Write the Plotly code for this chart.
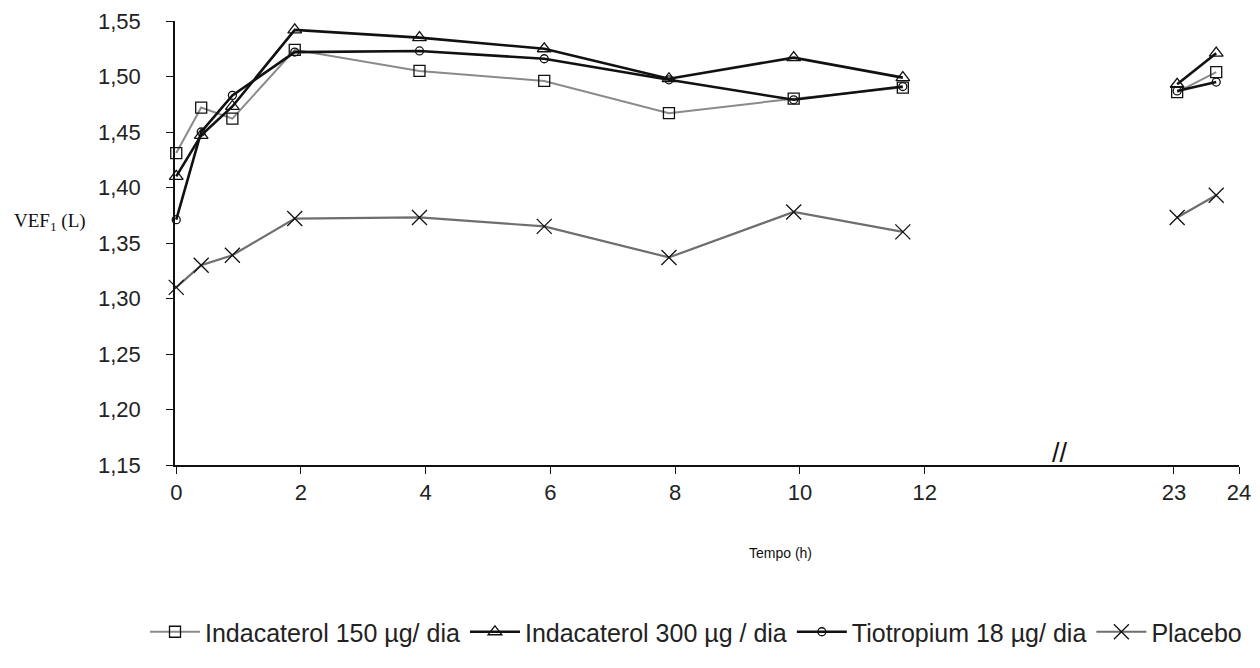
import plotly.graph_objects as go

# hours, first day (before the axis break) and next morning (after the break)
times_am = [0, 0.4, 0.9, 1.9, 3.9, 5.9, 7.9, 9.9, 11.65]
times_pm = [23.05, 23.65]

ind150_am = [1.431, 1.472, 1.462, 1.524, 1.505, 1.496, 1.467, 1.480, 1.490]
ind150_pm = [1.486, 1.504]
ind300_am = [1.410, 1.447, 1.473, 1.542, 1.535, 1.525, 1.498, 1.517, 1.499]
ind300_pm = [1.493, 1.521]
tio_am = [1.371, 1.450, 1.483, 1.522, 1.523, 1.516, 1.497, 1.479, 1.491]
tio_pm = [1.487, 1.495]
plac_am = [1.310, 1.330, 1.339, 1.372, 1.373, 1.365, 1.337, 1.378, 1.360]
plac_pm = [1.373, 1.393]

xticks_am = [0, 2, 4, 6, 8, 10, 12]
xticks_pm = [23, 24]
yticks = [1.15, 1.20, 1.25, 1.30, 1.35, 1.40, 1.45, 1.50, 1.55]

series = [
    ("Indacaterol 150 µg/ dia", ind150_am, ind150_pm, "square-open", 11, "#8a8a8a", 2),
    ("Indacaterol 300 µg / dia", ind300_am, ind300_pm, "triangle-up-open", 12, "#111111", 2.6),
    ("Tiotropium 18 µg/ dia", tio_am, tio_pm, "circle-open", 8, "#111111", 2.6),
    ("Placebo", plac_am, plac_pm, "x-thin-open", 15, "#6e6e6e", 2.2),
]

# page body has an 8px margin, so the figure is a bit smaller than the window
OFF = 8
W, H = 1260 - 2 * OFF, 668 - 2 * OFF
px = lambda x: (x - OFF) / W
py = lambda y: 1 - (y - OFF) / H

fig = go.Figure()
for name, am, pm, sym, size, lcol, lw in series:
    mk = dict(symbol=sym, size=size, color="#111111", line=dict(color="#111111", width=1.3))
    fig.add_trace(go.Scatter(x=times_am, y=am, name=name, mode="lines+markers",
                             legendgroup=name, line=dict(color=lcol, width=lw),
                             marker=mk, xaxis="x", yaxis="y", cliponaxis=False))
    fig.add_trace(go.Scatter(x=times_pm, y=pm, name=name, mode="lines+markers",
                             legendgroup=name, showlegend=False,
                             line=dict(color=lcol, width=lw),
                             marker=mk, xaxis="x2", yaxis="y", cliponaxis=False))

tickfont = dict(family="Liberation Sans", size=22, color="#222222")
axis_common = dict(showline=True, linecolor="#111111", linewidth=2, ticks="outside",
                   ticklen=7, tickcolor="#111111", tickwidth=1.2, showgrid=False,
                   zeroline=False, tickfont=tickfont, ticklabelstandoff=0,
                   automargin=False)


def label(text, x, y, family, size):
    return dict(text=text, x=px(x), y=py(y), xref="paper", yref="paper",
                xanchor="center", yanchor="middle", showarrow=False,
                font=dict(family=family, size=size, color="#111111"))


fig.update_layout(
    width=W, height=H,
    margin=dict(l=0, r=0, t=0, b=0),
    paper_bgcolor="white", plot_bgcolor="white",
    separators=",.",
    showlegend=True,
    xaxis=dict(domain=[px(175), px(1060)], range=[-0.02, 14.17], anchor="y",
               tickvals=xticks_am, **axis_common),
    xaxis2=dict(domain=[px(1060), px(1239)], range=[21.25, 24], anchor="y",
                tickvals=xticks_pm, **axis_common),
    yaxis=dict(domain=[py(465), py(21)], range=[1.15, 1.55], anchor="x",
               tickvals=yticks, tickformat=".2f",
               **{**axis_common, "linewidth": 1.5, "ticklabelstandoff": 21}),
    legend=dict(orientation="h", x=px(696), xanchor="center", y=py(632), yanchor="middle",
                font=dict(family="Liberation Sans", size=25, color="#222222"),
                itemwidth=50, tracegroupgap=0, bgcolor="rgba(0,0,0,0)"),
    annotations=[
        label("VEF<sub>1</sub> (L)", 50, 222, "Liberation Serif", 19),
        label("Tempo (h)", 780, 553, "Liberation Sans", 14),
        label("//", 1060, 453, "Liberation Sans", 27),
    ],
)

fig.write_html("out.html")
